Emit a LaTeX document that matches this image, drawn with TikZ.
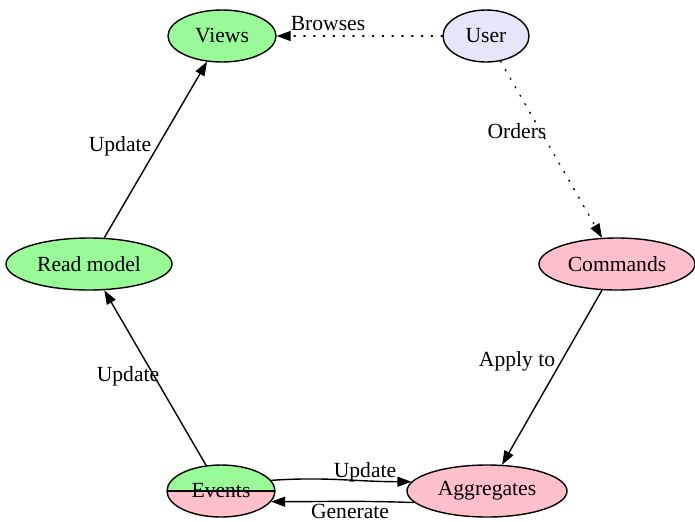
\documentclass[tikz,border=0pt]{standalone}
\usepackage{fontspec}
\setmainfont{Liberation Serif}
\usetikzlibrary{shapes.geometric,arrows.meta}
\definecolor{palegreen}{HTML}{98FB98}
\definecolor{pinkfill}{HTML}{FFC0CB}
\definecolor{lavender}{HTML}{E6E6FA}
\begin{document}
\begin{tikzpicture}[x=0.5pt,y=-0.5pt,
  font=\fontsize{10.8}{13}\selectfont,
  every node/.style={inner sep=0pt},
  state/.style={ellipse,draw,line width=0.7pt,minimum height=26pt},
  edge/.style={line width=0.7pt,-{Triangle[length=7pt,width=5pt]}},
  dotedge/.style={edge,dash pattern=on 0.6pt off 4.3pt,line cap=round},
  lbl/.style={anchor=center}]
\useasboundingbox (0,0) rectangle (695,521);

% states
\node[state,fill=palegreen,minimum width=54pt] (views) at (222,36) {Views};
\node[state,fill=lavender,minimum width=43pt] (user) at (486,36) {User};
\node[state,fill=palegreen,minimum width=83pt] (read) at (89,264) {Read model};
\node[state,fill=pinkfill,minimum width=78pt] (commands) at (617,264) {Commands};
\node[state,fill=pinkfill,minimum width=80pt] (aggregates) at (487,491) {Aggregates};
\node[state,minimum width=54pt,
  path picture={
    \fill[palegreen] (path picture bounding box.north west) rectangle (path picture bounding box.east);
    \fill[pinkfill] (path picture bounding box.west) rectangle (path picture bounding box.south east);
    \draw[line width=0.7pt] (path picture bounding box.west) -- (path picture bounding box.east);
  }] (events) at (221,491) {Events};

% connectors
\draw[dotedge] (user) -- (views);
\draw[dotedge] (user) -- (commands);
\draw[edge] (commands) -- (aggregates);
\draw[edge] (events) -- (read);
\draw[edge] (read) -- (views);
\draw[edge] (events.12) to[out=4,in=180] (aggregates.173);
\draw[edge] (aggregates.189) to[out=178,in=0] (events.-12);

% labels
\node[lbl] (lbrowses) at (328,23.5) {Browses};
\node[lbl] (lorders) at (517,131.5) {Orders};
\node[lbl] (lupd1) at (120,146.5) {Update};
\node[lbl] (lupd2) at (128,376.5) {Update};
\node[lbl] (lapply) at (517,361.5) {Apply to};
\node[lbl] (lupd3) at (365,472.5) {Update};
\node[lbl] (lgen) at (350,511) {Generate};
\end{tikzpicture}
\end{document}
